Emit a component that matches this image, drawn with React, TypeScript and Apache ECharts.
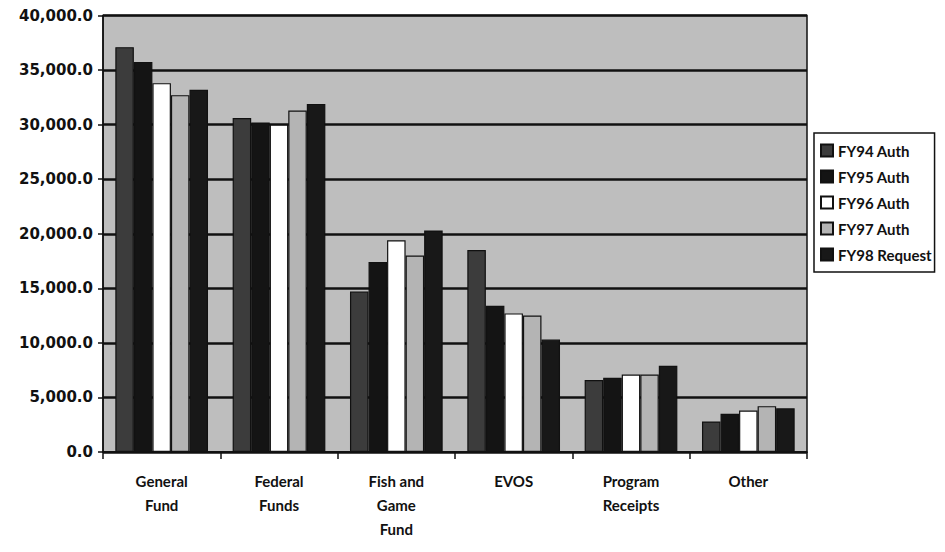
import React, { useEffect, useRef } from "react";
import * as echarts from "echarts";

const categories = ["General\nFund", "Federal\nFunds", "Fish and\nGame\nFund", "EVOS", "Program\nReceipts", "Other"];
const seriesNames = ["FY94 Auth", "FY95 Auth", "FY96 Auth", "FY97 Auth", "FY98 Request"];
const fy94 = [37100, 30600, 14700, 18500, 6600, 2800];
const fy95 = [35750, 30200, 17400, 13400, 6800, 3500];
const fy96 = [33800, 30000, 19400, 12700, 7100, 3800];
const fy97 = [32700, 31300, 18000, 12500, 7100, 4200];
const fy98 = [33200, 31900, 20300, 10300, 7900, 4000];
const seriesData = [fy94, fy95, fy96, fy97, fy98];
const colors = ["#3c3c3c", "#141414", "#ffffff", "#b4b4b4", "#181818"];

export default function App() {
  const ref = useRef<HTMLDivElement>(null);
  useEffect(() => {
    if (!ref.current) return;
    const chart = echarts.init(ref.current, null, { renderer: "svg" });
    chart.setOption({
      animation: false,
      backgroundColor: "#ffffff",
      textStyle: { fontFamily: "Lato" },
      grid: {
        left: 95,
        top: 7,
        right: 130,
        bottom: 92,
        show: true,
        backgroundColor: "#bebebe",
        borderColor: "#111",
        borderWidth: 1.5,
      },
      legend: {
        orient: "vertical",
        left: 806,
        top: 125,
        itemWidth: 12,
        itemHeight: 12,
        itemGap: 11,
        padding: [10, 3, 10, 6],
        backgroundColor: "#ffffff",
        borderColor: "#111",
        borderWidth: 1.5,
        borderRadius: 0,
        textStyle: {
          fontFamily: "Lato",
          fontWeight: "bold",
          fontSize: 15,
          color: "#111",
        },
        data: seriesNames.map((n) => ({ name: n, icon: "rect" })),
      },
      xAxis: {
        type: "category",
        data: categories,
        axisLine: { lineStyle: { color: "#111", width: 1.5 } },
        axisTick: { show: true, length: 7, lineStyle: { color: "#111", width: 1.5 } },
        axisLabel: {
          fontFamily: "Lato",
          fontWeight: "bold",
          fontSize: 15,
          color: "#111",
          lineHeight: 24,
          margin: 17,
          interval: 0,
        },
      },
      yAxis: {
        type: "value",
        min: 0,
        max: 40000,
        interval: 5000,
        axisLine: { show: true, lineStyle: { color: "#111", width: 1.5 } },
        axisTick: { show: true, length: 5, lineStyle: { color: "#111", width: 1.5 } },
        axisLabel: {
          fontFamily: "DejaVu Sans",
          fontWeight: "bold",
          fontSize: 15,
          color: "#111",
          margin: 10,
          formatter: (v: number) =>
            v.toLocaleString("en-US", { minimumFractionDigits: 1, maximumFractionDigits: 1 }),
        },
        splitLine: { show: true, lineStyle: { color: "#111", width: 2.5 } },
      },
      series: seriesNames.map((name, i) => ({
        name,
        type: "bar",
        data: seriesData[i],
        barGap: "0%",
        barCategoryGap: "21%",
        itemStyle: { color: colors[i], borderColor: "#111", borderWidth: 1.2 },
      })),
    });
    return () => chart.dispose();
  }, []);
  return <div ref={ref} style={{ width: 929, height: 536 }} />;
}
